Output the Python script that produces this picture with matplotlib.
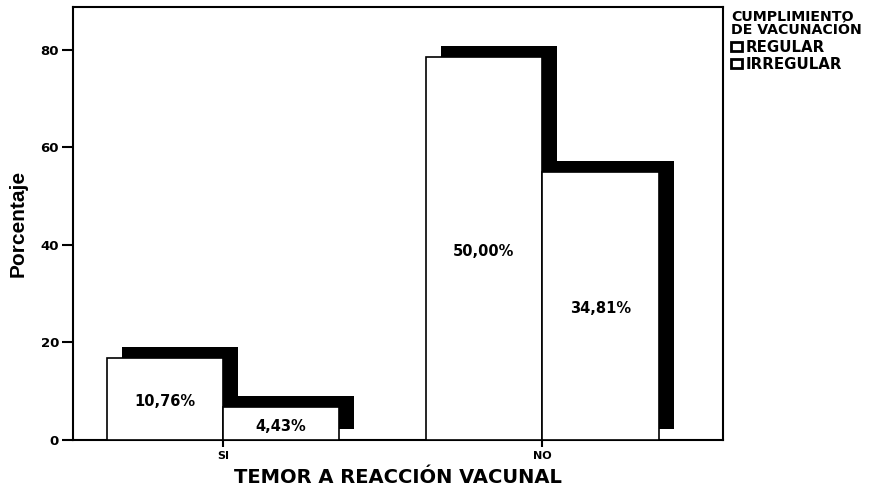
import matplotlib
matplotlib.use("Agg")
import matplotlib.pyplot as plt
import matplotlib.transforms as mtransforms
from matplotlib.patches import Patch
import numpy as np

categories = ["SI", "NO"]
series_names = ["REGULAR", "IRREGULAR"]
regular = [16.8, 78.6]
irregular = [6.8, 55.0]
regular_labels = ["10,76%", "50,00%"]
irregular_labels = ["4,43%", "34,81%"]
yticks = [0, 20, 40, 60, 80]

plt.rcParams['font.family'] = ['DejaVu Sans']

fig = plt.figure(figsize=(8.75, 4.93), dpi=100)
ax = fig.add_axes([73/875, 53/493, 650/875, 433/493])

x = np.arange(len(categories))
w = 0.365
shadow = mtransforms.offset_copy(ax.transData, fig=fig, x=15, y=11, units='dots')

for k, (vals, labs) in enumerate([(regular, regular_labels), (irregular, irregular_labels)]):
    pos = x + (k - 0.5) * w
    ax.bar(pos, vals, width=w, color='black', edgecolor='black', linewidth=0,
           transform=shadow, zorder=2 + 2 * k)
    ax.bar(pos, vals, width=w, color='white', edgecolor='black', linewidth=1.2,
           zorder=3 + 2 * k)
    for p, v, lab in zip(pos, vals, labs):
        ax.text(p, v / 2 - 0.6, lab, ha='center', va='center', fontsize=10.5,
                fontweight='bold', zorder=10)

ax.set_xlim(-0.47, 1.567)
ax.set_ylim(0, 88.8)
ax.set_yticks(yticks)
ax.set_yticklabels([str(t) for t in yticks], fontsize=9.5, fontweight='bold')
ax.set_xticks(x)
ax.set_xticklabels(categories, fontsize=8, fontweight='bold')
ax.tick_params(axis='y', length=8, width=1.5, direction='out', pad=2)
ax.tick_params(axis='x', length=5, width=1.5, direction='out', pad=3)
for s in ax.spines.values():
    s.set_linewidth(1.5)

ax.set_ylabel("Porcentaje", fontsize=15, fontweight='bold',
              family=['Liberation Sans Narrow', 'Liberation Sans'], labelpad=9)
ax.set_xlabel("TEMOR A REACCIÓN VACUNAL", fontsize=14, fontweight='bold', labelpad=5)

handles = [Patch(facecolor='white', edgecolor='black', linewidth=2.0, label=n) for n in series_names]
leg = fig.legend(handles=handles, loc='upper left', bbox_to_anchor=(731/875, 1 - 10/493),
                 frameon=False, title="CUMPLIMIENTO\nDE VACUNACIÓN",
                 title_fontproperties={'weight': 'bold', 'size': 10.2},
                 prop={'size': 10.8, 'weight': 'bold'}, alignment='left',
                 handlelength=0.7, handleheight=0.55,
                 handletextpad=0.3, labelspacing=0.15, borderaxespad=0, borderpad=0)
leg.get_title().set_linespacing(0.95)

fig.savefig("out.png", dpi=100)
